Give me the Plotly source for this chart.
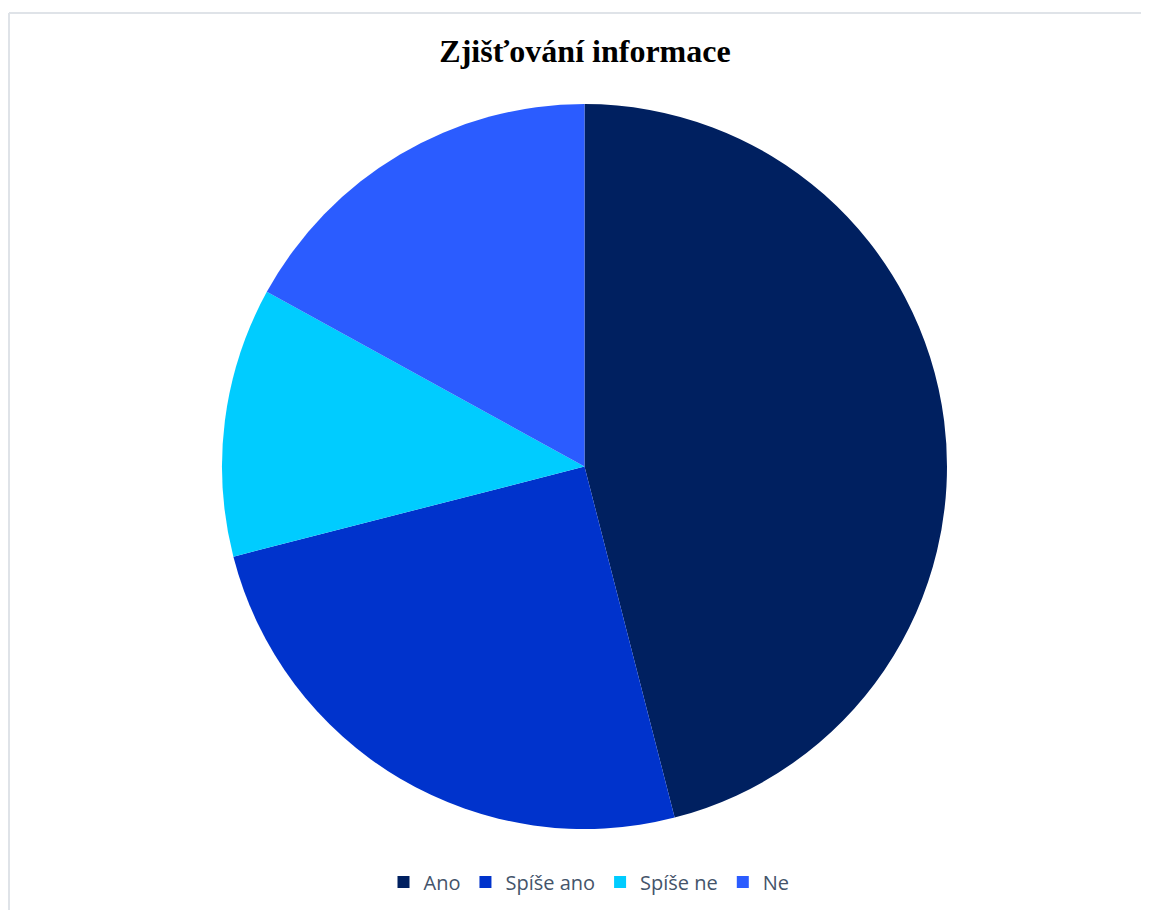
import plotly.graph_objects as go

labels = ["Ano", "Spíše ano", "Spíše ne", "Ne"]
values = [46, 25, 12, 17]
colors = ["#002060", "#0033CC", "#00CCFF", "#2B5CFF"]

W, H = 1149, 910
OFF = 8  # the page adds an 8px body margin
L, R, T, B = 222 - OFF, 202 + OFF, 104 - OFF, 81 + OFF
side = W - L - R


def px_x(x):
    return (x - OFF - L) / side


def px_y(y):
    return (H - B - (y - OFF)) / side


fig = go.Figure(go.Pie(
    labels=labels,
    values=values,
    sort=False,
    direction="clockwise",
    rotation=0,
    textinfo="none",
    hoverinfo="label+percent",
    marker=dict(colors=colors, line=dict(width=0)),
))

# light frame around the chart
frame = "#dfe3e8"
fig.add_shape(type="line", xref="paper", yref="paper",
              x0=px_x(9), x1=px_x(W + 10), y0=px_y(13), y1=px_y(13),
              line=dict(color=frame, width=2))
fig.add_shape(type="line", xref="paper", yref="paper",
              x0=px_x(9), x1=px_x(9), y0=px_y(13), y1=px_y(H + 10),
              line=dict(color=frame, width=2))

fig.update_layout(
    width=W, height=H,
    margin=dict(l=L, r=R, t=T, b=B),
    paper_bgcolor="white",
    plot_bgcolor="white",
    title=dict(
        text="<b>Zjišťování informace</b>",
        font=dict(family="Liberation Serif", size=32, color="black"),
        x=px_x(585), xref="paper", xanchor="center",
        y=1 - (52 - OFF - 1) / H, yref="container", yanchor="middle",
    ),
    showlegend=True,
    legend=dict(
        orientation="h",
        x=px_x(589), xanchor="center",
        y=px_y(882), yanchor="middle",
        font=dict(family="Open Sans", size=20, color="#44546A"),
        itemsizing="constant",
    ),
)

fig.write_html("out.html")
